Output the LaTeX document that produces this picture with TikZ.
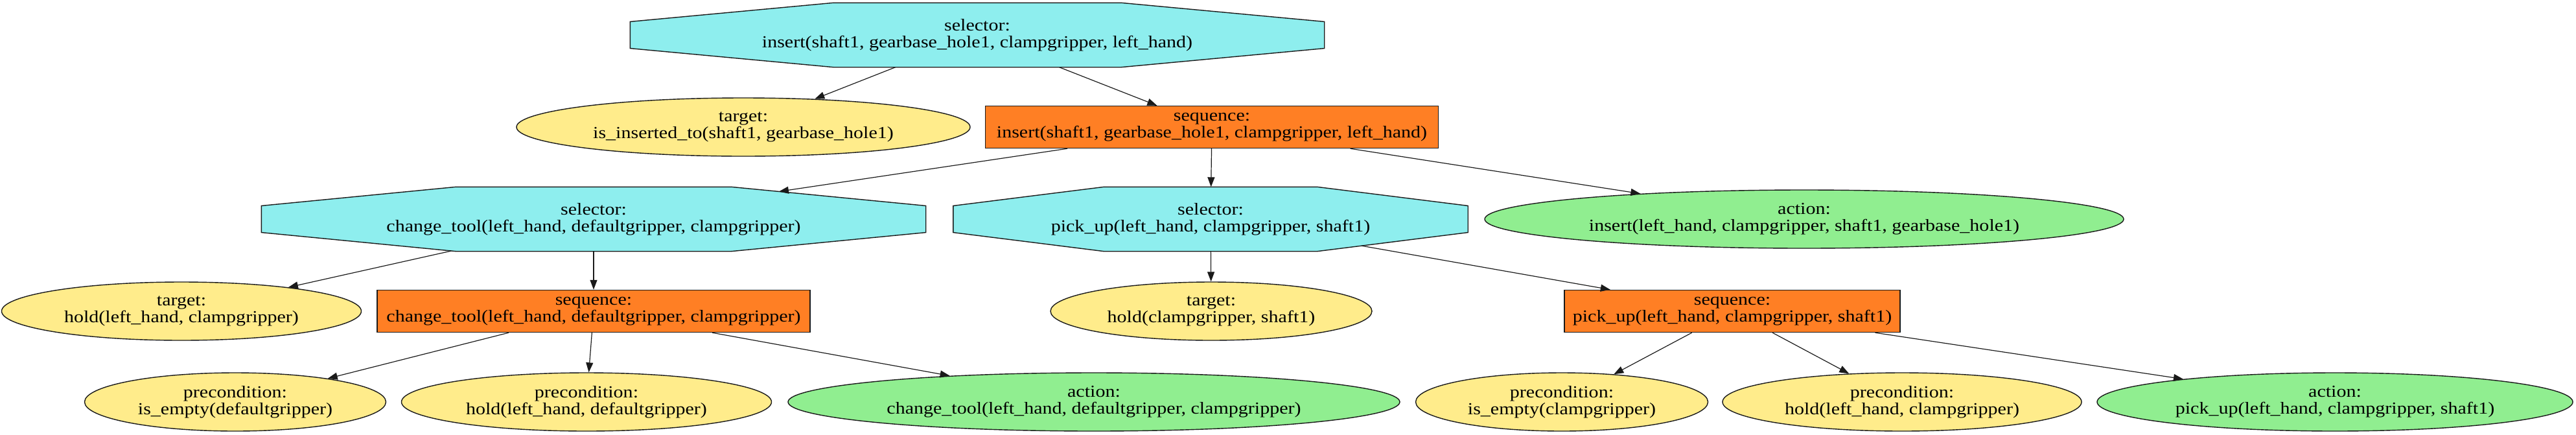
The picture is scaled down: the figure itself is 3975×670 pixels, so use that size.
\documentclass[tikz,border=0pt]{standalone}
\usepackage{fontspec}
\setmainfont[FakeStretch=1.155]{Liberation Serif}
\usepackage{tikz}
\usepackage{xcolor}
\usetikzlibrary{shapes.geometric,arrows.meta}
\definecolor{vdarkgray}{HTML}{1a1a1a}
\definecolor{vcyan}{HTML}{8EEEEE}
\definecolor{vorange}{HTML}{FF7F24}
\definecolor{vyellow}{HTML}{FFEC8B}
\definecolor{vgreen}{HTML}{90EE90}

% stretched octagon (corners cut at 0.2929 of width and height)
\makeatletter
\pgfdeclareshape{btoctagon}{
	\inheritsavedanchors[from=rectangle]
	\inheritanchor[from=rectangle]{center}
	\inheritanchor[from=rectangle]{north}
	\inheritanchor[from=rectangle]{south}
	\inheritanchor[from=rectangle]{east}
	\inheritanchor[from=rectangle]{west}
	\inheritanchor[from=rectangle]{text}
	\inheritanchor[from=rectangle]{base}
	\backgroundpath{%
		\pgf@process{\southwest}\edef\btxa{\the\pgf@x}\edef\btya{\the\pgf@y}%
		\pgf@process{\northeast}\edef\btxb{\the\pgf@x}\edef\btyb{\the\pgf@y}%
		\pgfmathsetlengthmacro\btcx{0.29289*(\btxb-\btxa)}%
		\pgfmathsetlengthmacro\btcy{0.29289*(\btyb-\btya)}%
		\pgfmathsetlengthmacro\btxl{\btxa+\btcx}\pgfmathsetlengthmacro\btxr{\btxb-\btcx}%
		\pgfmathsetlengthmacro\btyl{\btya+\btcy}\pgfmathsetlengthmacro\btyu{\btyb-\btcy}%
		\pgfpathmoveto{\pgfqpoint{\btxl}{\btya}}%
		\pgfpathlineto{\pgfqpoint{\btxr}{\btya}}%
		\pgfpathlineto{\pgfqpoint{\btxb}{\btyl}}%
		\pgfpathlineto{\pgfqpoint{\btxb}{\btyu}}%
		\pgfpathlineto{\pgfqpoint{\btxr}{\btyb}}%
		\pgfpathlineto{\pgfqpoint{\btxl}{\btyb}}%
		\pgfpathlineto{\pgfqpoint{\btxa}{\btyu}}%
		\pgfpathlineto{\pgfqpoint{\btxa}{\btyl}}%
		\pgfpathclose
	}
	\anchorborder{%
		\edef\btdx{\the\pgf@x}\edef\btdy{\the\pgf@y}%
		\pgf@process{\southwest}\edef\btxa{\the\pgf@x}\edef\btya{\the\pgf@y}%
		\pgf@process{\northeast}\edef\btxb{\the\pgf@x}\edef\btyb{\the\pgf@y}%
		\pgfmathsetlengthmacro\bthw{0.5*(\btxb-\btxa)}%
		\pgfmathsetlengthmacro\bthh{0.5*(\btyb-\btya)}%
		\pgfpointborderrectangle{\pgfqpoint{\btdx}{\btdy}}{\pgfqpoint{\bthw}{\bthh}}%
		\edef\btpx{\the\pgf@x}\edef\btpy{\the\pgf@y}%
		\pgfmathsetmacro\btf{min(1,1.41421/(abs(\btpx)/\bthw+abs(\btpy)/\bthh))}%
		\pgfmathsetlengthmacro\btrx{\btf*\btpx+0.5*(\btxa+\btxb)}%
		\pgfmathsetlengthmacro\btry{\btf*\btpy+0.5*(\btya+\btyb)}%
		\pgf@x=\btrx\relax
		\pgf@y=\btry\relax
	}
}
\makeatother

\tikzset{
	bt/.style={draw=vdarkgray, line width=0.7pt, inner sep=0pt, align=center, font=\fontsize{13}{13}\selectfont},
	selector/.style={bt, btoctagon, fill=vcyan, minimum width=#1, minimum height=49pt},
	sequence/.style={bt, rectangle, fill=vorange, minimum width=#1, minimum height=32.5pt},
	cond/.style={bt, ellipse, fill=vyellow, minimum width=#1, minimum height=45pt},
	action/.style={bt, ellipse, fill=vgreen, minimum width=#1, minimum height=45pt},
	edge/.style={color=vdarkgray, line width=0.6pt, -{Triangle[length=7.5pt,width=5.5pt]}}
}

\begin{document}
\begin{tikzpicture}[x=0.5pt, y=-0.5pt]
		\useasboundingbox (0,0) rectangle (3975,670);
		% root
		\node[selector=535pt] (selInsert) at (1508,54) {selector:\\insert(shaft1, gearbase\_hole1, clampgripper, left\_hand)};
		% rank 2
		\node[cond=350pt] (tgtInserted) at (1147,196) {target:\\is\_inserted\_to(shaft1, gearbase\_hole1)};
		\node[sequence=349.5pt] (seqInsert) at (1870,196) {sequence:\\insert(shaft1, gearbase\_hole1, clampgripper, left\_hand)};
		% rank 3
		\node[selector=512pt] (selChange) at (916,338) {selector:\\change\_tool(left\_hand, defaultgripper, clampgripper)};
		\node[selector=396.5pt] (selPick) at (1868,338) {selector:\\pick\_up(left\_hand, clampgripper, shaft1)};
		\node[action=493pt] (actInsert) at (2784,338) {action:\\insert(left\_hand, clampgripper, shaft1, gearbase\_hole1)};
		% rank 4
		\node[cond=277.5pt] (tgtHoldLh) at (280,480) {target:\\hold(left\_hand, clampgripper)};
		\node[sequence=334pt] (seqChange) at (916,480) {sequence:\\change\_tool(left\_hand, defaultgripper, clampgripper)};
		\node[cond=248pt] (tgtHoldCg) at (1869,480) {target:\\hold(clampgripper, shaft1)};
		\node[sequence=259pt] (seqPick) at (2673,480) {sequence:\\pick\_up(left\_hand, clampgripper, shaft1)};
		% rank 5
		\node[cond=232.5pt] (preEmptyDg) at (363,620) {precondition:\\is\_empty(defaultgripper)};
		\node[cond=285.5pt] (preHoldDg) at (905,620) {precondition:\\hold(left\_hand, defaultgripper)};
		\node[action=472pt] (actChange) at (1688,620) {action:\\change\_tool(left\_hand, defaultgripper, clampgripper)};
		\node[cond=225.5pt] (preEmptyCg) at (2410,620) {precondition:\\is\_empty(clampgripper)};
		\node[cond=277pt] (preHoldCg) at (2935,620) {precondition:\\hold(left\_hand, clampgripper)};
		\node[action=367pt] (actPick) at (3603,620) {action:\\pick\_up(left\_hand, clampgripper, shaft1)};
		% edges
		\draw[edge] (selInsert) -- (tgtInserted);
		\draw[edge] (selInsert) -- (seqInsert);
		\draw[edge] (seqInsert) -- (selChange);
		\draw[edge] (seqInsert) -- (selPick);
		\draw[edge] (seqInsert) -- (actInsert);
		\draw[edge] (selChange) -- (tgtHoldLh);
		\draw[edge] (selChange) -- (seqChange);
		\draw[edge] (selPick) -- (tgtHoldCg);
		\draw[edge] (selPick) -- (seqPick);
		\draw[edge] (seqChange) -- (preEmptyDg);
		\draw[edge] (seqChange) -- (preHoldDg);
		\draw[edge] (seqChange) -- (actChange);
		\draw[edge] (seqPick) -- (preEmptyCg);
		\draw[edge] (seqPick) -- (preHoldCg);
		\draw[edge] (seqPick) -- (actPick);
	\end{tikzpicture}
\end{document}
